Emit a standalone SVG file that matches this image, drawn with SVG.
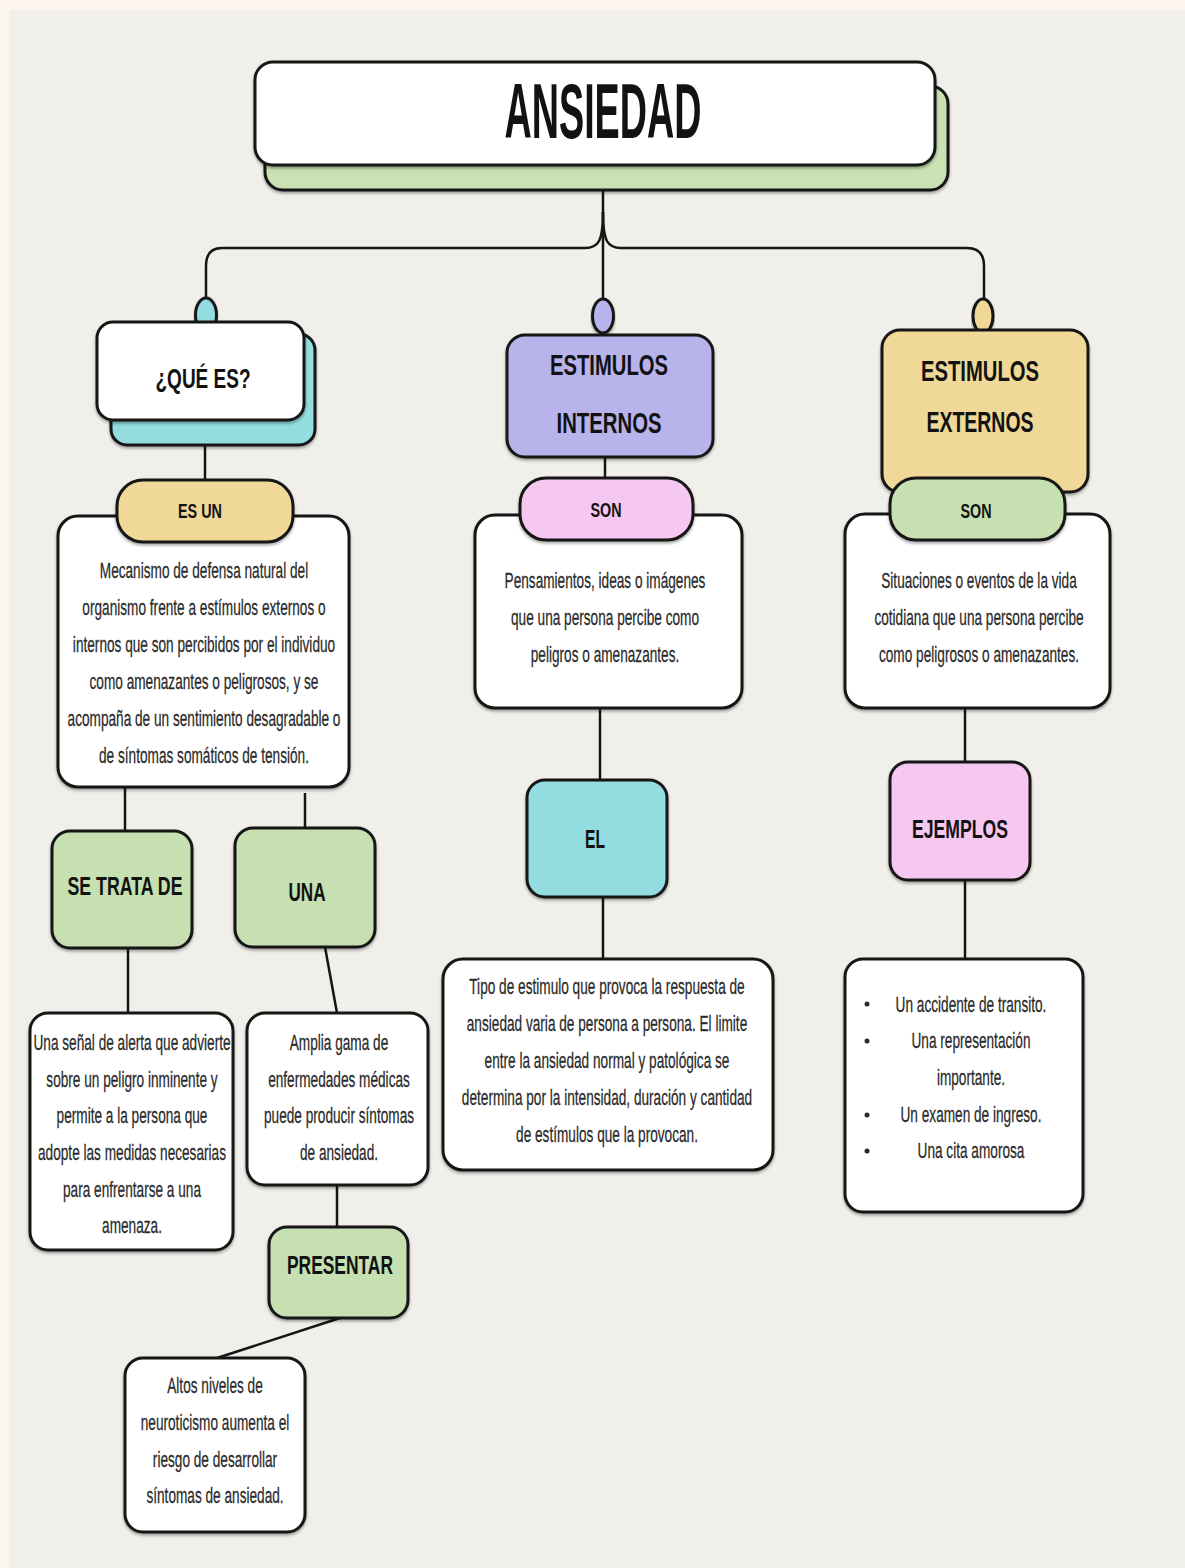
<svg xmlns="http://www.w3.org/2000/svg" width="1185" height="1568" viewBox="0 0 1185 1568">
<defs>
<filter id="sh" x="-10%" y="-10%" width="120%" height="130%">
<feDropShadow dx="0" dy="2" stdDeviation="1.5" flood-color="#000" flood-opacity="0.35"/>
</filter>
</defs>
<style>
.box{stroke:#151515;stroke-width:3;filter:url(#sh)}
.w{fill:#ffffff}
.cy{fill:#93dce0}
.lv{fill:#b8b3ea}
.tn{fill:#f0d898}
.pk{fill:#f6c7f1}
.gr{fill:#c6e0b1}
.ln{stroke:#151515;stroke-width:2.5;fill:none}
.h{font-family:"Liberation Sans",Arial,sans-serif;font-weight:bold;fill:#121212;text-anchor:middle}
.b{font-family:"Liberation Sans",Arial,sans-serif;font-size:22px;fill:#2a2a2a;stroke:#2a2a2a;stroke-width:0.25;text-anchor:middle}
</style>
<rect x="0" y="0" width="1185" height="1568" fill="#fbf5ec"/>
<rect x="9" y="10" width="1176" height="1558" fill="#f1efea"/>

<g id="connectors">
<path class="ln" d="M603,190 L603,300"/>
<path class="ln" d="M603,212 C603,242 598,248 585,248 L222,248 Q206,248 206,266 L206,299"/>
<path class="ln" d="M603,212 C603,242 608,248 621,248 L967,248 Q984,248 984,266 L984,301"/>
<path class="ln" d="M205,445 L205,481"/>
<path class="ln" d="M605,457 L605,479"/>
<path class="ln" d="M125,787 L125,832"/>
<path class="ln" d="M305,793 L305,829"/>
<path class="ln" d="M128,948 L128,1013"/>
<path class="ln" d="M325,947 L337,1013"/>
<path class="ln" d="M337,1185 L337,1228"/>
<path class="ln" d="M340,1318 L217,1358"/>
<path class="ln" d="M600,708 L600,780"/>
<path class="ln" d="M603,897 L603,959"/>
<path class="ln" d="M965,708 L965,762"/>
<path class="ln" d="M965,880 L965,959"/>
</g>

<g id="n-ansiedad">
<rect class="box" x="265" y="86" width="683" height="104" rx="18" fill="#c8e2b4"/>
<rect class="box w" x="255" y="62" width="680" height="103" rx="18"/>
<text class="h" x="603" y="138" font-size="78" textLength="197" lengthAdjust="spacingAndGlyphs">ANSIEDAD</text>
</g>

<g id="n-que-es">
<ellipse class="box cy" cx="206" cy="315" rx="10.5" ry="17"/>
<rect class="box cy" x="111" y="334" width="204" height="111" rx="16"/>
<rect class="box w" x="97" y="322" width="207" height="98" rx="16"/>
<text class="h" x="203" y="388" font-size="28" textLength="95" lengthAdjust="spacingAndGlyphs">¿QUÉ ES?</text>
</g>

<g id="n-mecanismo">
<rect class="box w" x="58" y="516" width="291" height="271" rx="20"/>
<g transform="translate(204 0) scale(0.62 1)">
<text class="b" x="0" y="578">Mecanismo de defensa natural del</text>
<text class="b" x="0" y="615">organismo frente a estímulos externos o</text>
<text class="b" x="0" y="652">internos que son percibidos por el individuo</text>
<text class="b" x="0" y="689">como amenazantes o peligrosos, y se</text>
<text class="b" x="0" y="726">acompaña de un sentimiento desagradable o</text>
<text class="b" x="0" y="763">de síntomas somáticos de tensión.</text>
</g>
</g>

<g id="n-es-un">
<rect class="box tn" x="117" y="480" width="176" height="62" rx="26"/>
<text class="h" x="200" y="518" font-size="20" textLength="44" lengthAdjust="spacingAndGlyphs">ES UN</text>
</g>

<g id="n-se-trata">
<rect class="box gr" x="52" y="831" width="140" height="117" rx="18"/>
<text class="h" x="125" y="895" font-size="26" textLength="115" lengthAdjust="spacingAndGlyphs">SE TRATA DE</text>
</g>

<g id="n-una">
<rect class="box gr" x="235" y="828" width="140" height="119" rx="18"/>
<text class="h" x="307" y="901" font-size="26" textLength="37" lengthAdjust="spacingAndGlyphs">UNA</text>
</g>

<g id="n-senal">
<rect class="box w" x="30" y="1013" width="203" height="237" rx="18"/>
<g transform="translate(132 0) scale(0.62 1)">
<text class="b" x="0" y="1050">Una señal de alerta que advierte</text>
<text class="b" x="0" y="1087">sobre un peligro inminente y</text>
<text class="b" x="0" y="1123">permite a la persona que</text>
<text class="b" x="0" y="1160">adopte las medidas necesarias</text>
<text class="b" x="0" y="1197">para enfrentarse a una</text>
<text class="b" x="0" y="1233">amenaza.</text>
</g>
</g>

<g id="n-amplia">
<rect class="box w" x="247" y="1013" width="181" height="172" rx="18"/>
<g transform="translate(339 0) scale(0.62 1)">
<text class="b" x="0" y="1050">Amplia gama de</text>
<text class="b" x="0" y="1087">enfermedades médicas</text>
<text class="b" x="0" y="1123">puede producir síntomas</text>
<text class="b" x="0" y="1160">de ansiedad.</text>
</g>
</g>

<g id="n-presentar">
<rect class="box gr" x="269" y="1227" width="139" height="91" rx="18"/>
<text class="h" x="340" y="1274" font-size="26" textLength="106" lengthAdjust="spacingAndGlyphs">PRESENTAR</text>
</g>

<g id="n-altos">
<rect class="box w" x="125" y="1358" width="180" height="174" rx="18"/>
<g transform="translate(215 0) scale(0.62 1)">
<text class="b" x="0" y="1393">Altos niveles de</text>
<text class="b" x="0" y="1430">neuroticismo aumenta el</text>
<text class="b" x="0" y="1467">riesgo de desarrollar</text>
<text class="b" x="0" y="1503">síntomas de ansiedad.</text>
</g>
</g>

<g id="n-internos">
<ellipse class="box lv" cx="603" cy="316" rx="10.5" ry="17"/>
<rect class="box lv" x="507" y="335" width="206" height="122" rx="18"/>
<text class="h" x="609" y="375" font-size="30" textLength="118" lengthAdjust="spacingAndGlyphs">ESTIMULOS</text>
<text class="h" x="609" y="433" font-size="30" textLength="105" lengthAdjust="spacingAndGlyphs">INTERNOS</text>
</g>

<g id="n-pensamientos">
<rect class="box w" x="475" y="515" width="267" height="193" rx="20"/>
<g transform="translate(605 0) scale(0.62 1)">
<text class="b" x="0" y="588">Pensamientos, ideas o imágenes</text>
<text class="b" x="0" y="625">que una persona percibe como</text>
<text class="b" x="0" y="662">peligros o amenazantes.</text>
</g>
</g>

<g id="n-son-int">
<rect class="box pk" x="520" y="478" width="173" height="62" rx="26"/>
<text class="h" x="606" y="517" font-size="20" textLength="31" lengthAdjust="spacingAndGlyphs">SON</text>
</g>

<g id="n-el">
<rect class="box cy" x="527" y="780" width="140" height="117" rx="18"/>
<text class="h" x="595" y="848" font-size="26" textLength="20" lengthAdjust="spacingAndGlyphs">EL</text>
</g>

<g id="n-tipo">
<rect class="box w" x="443" y="959" width="330" height="211" rx="20"/>
<g transform="translate(607 0) scale(0.62 1)">
<text class="b" x="0" y="994">Tipo de estimulo que provoca la respuesta de</text>
<text class="b" x="0" y="1031">ansiedad varia de persona a persona. El limite</text>
<text class="b" x="0" y="1068">entre la ansiedad normal y patológica se</text>
<text class="b" x="0" y="1105">determina por la intensidad, duración y cantidad</text>
<text class="b" x="0" y="1142">de estímulos que la provocan.</text>
</g>
</g>

<g id="n-externos">
<ellipse class="box tn" cx="983" cy="316" rx="10" ry="17"/>
<rect class="box tn" x="882" y="330" width="206" height="162" rx="18"/>
<text class="h" x="980" y="381" font-size="30" textLength="118" lengthAdjust="spacingAndGlyphs">ESTIMULOS</text>
<text class="h" x="980" y="432" font-size="30" textLength="107" lengthAdjust="spacingAndGlyphs">EXTERNOS</text>
</g>

<g id="n-situaciones">
<rect class="box w" x="845" y="514" width="265" height="194" rx="20"/>
<g transform="translate(979 0) scale(0.62 1)">
<text class="b" x="0" y="588">Situaciones o eventos de la vida</text>
<text class="b" x="0" y="625">cotidiana que una persona percibe</text>
<text class="b" x="0" y="662">como peligrosos o amenazantes.</text>
</g>
</g>

<g id="n-son-ext">
<rect class="box gr" x="890" y="478" width="175" height="62" rx="26"/>
<text class="h" x="976" y="518" font-size="20" textLength="31" lengthAdjust="spacingAndGlyphs">SON</text>
</g>

<g id="n-ejemplos">
<rect class="box pk" x="890" y="762" width="140" height="118" rx="18"/>
<text class="h" x="960" y="838" font-size="26" textLength="96" lengthAdjust="spacingAndGlyphs">EJEMPLOS</text>
</g>

<g id="n-lista">
<rect class="box w" x="845" y="959" width="238" height="253" rx="18"/>
<g fill="#2a2a2a">
<circle cx="867" cy="1004" r="2.5"/>
<circle cx="867" cy="1041" r="2.5"/>
<circle cx="867" cy="1115" r="2.5"/>
<circle cx="867" cy="1151" r="2.5"/>
</g>
<g transform="translate(971 0) scale(0.62 1)">
<text class="b" x="0" y="1012">Un accidente de transito.</text>
<text class="b" x="0" y="1048">Una representación</text>
<text class="b" x="0" y="1085">importante.</text>
<text class="b" x="0" y="1122">Un examen de ingreso.</text>
<text class="b" x="0" y="1158">Una cita amorosa</text>
</g>
</g>
</svg>
